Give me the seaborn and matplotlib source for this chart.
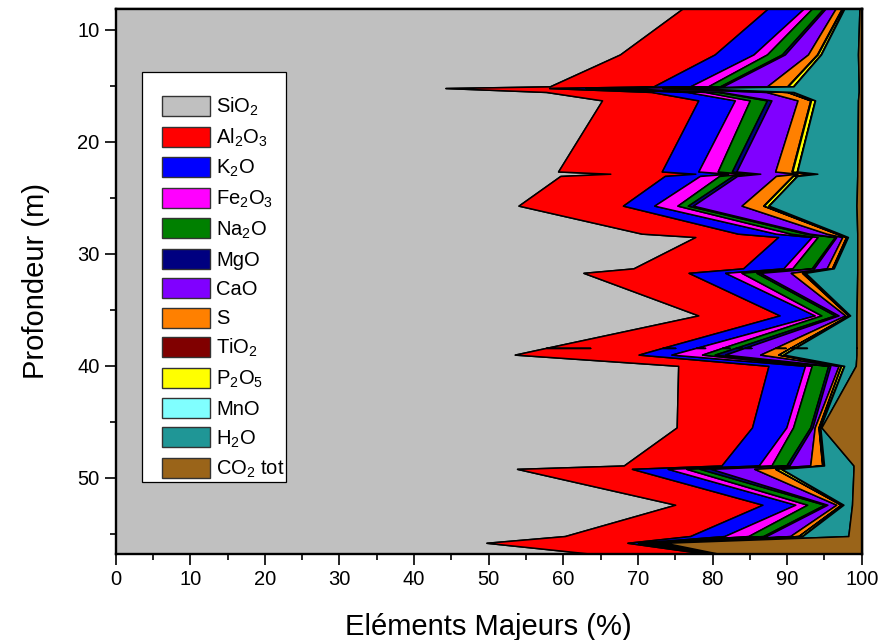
import matplotlib
matplotlib.use("Agg")
import numpy as np
import pandas as pd
import matplotlib.pyplot as plt
import seaborn as sns
from matplotlib.patches import Patch, Rectangle
from matplotlib.ticker import MultipleLocator

# =============================================================================
# DONNEES -- profondeur (m) et teneurs (%)
# =============================================================================

DEPTH = [8.0, 12.2, 15.05, 15.2, 15.55, 16.3, 22.65, 22.85, 23.05, 25.7,
         28.2, 28.5, 31.3, 31.7, 35.5, 38.4, 38.4, 38.4, 39.0, 40.0,
         45.5, 48.9, 49.2, 52.4, 55.2, 55.8, 56.9]

SIO2 = [76.2, 67.6, 58.2, 44.2, 57.7, 65.2, 59.3, 66.3, 59.6, 54.0,
        70.5, 77.7, 69.4, 62.7, 78.1, 57.7, 63.6, 57.7, 53.5, 75.4,
        75.2, 68.1, 53.8, 75.0, 60.2, 49.7, 65.5]
AL2O3 = [11.4, 12.7, 13.9, 13.9, 14.1, 12.9, 13.9, 11.4, 14.0, 14.0,
         12.9, 11.1, 14.7, 14.1, 10.9, 15.6, 11.4, 15.6, 16.6, 12.1,
         10.1, 13.1, 15.4, 11.7, 16.8, 18.9, 15.0]
K2O = [4.8, 5.2, 4.9, 4.9, 4.8, 4.9, 4.9, 4.4, 4.7, 4.2,
       5.1, 4.5, 5.4, 4.9, 4.7, 4.5, 4.0, 4.5, 4.4, 4.9,
       4.6, 5.0, 4.8, 4.4, 4.6, 1.4, 0.3]
FE2O3 = [1.1, 1.8, 2.4, 2.4, 2.4, 2.0, 2.6, 2.1, 2.6, 3.1,
         2.0, 0.8, 1.2, 2.2, 0.9, 3.5, 3.3, 3.5, 4.1, 0.9,
         0.9, 1.7, 2.5, 1.6, 3.2, 0.6, 0.1]
NA2O = [1.5, 2.0, 1.6, 1.6, 1.8, 2.3, 1.9, 1.6, 1.8, 1.4,
        2.0, 2.3, 2.6, 2.0, 1.8, 1.8, 1.7, 1.8, 1.7, 2.2,
        2.3, 2.0, 1.8, 2.3, 2.0, 0.6, 0.1]
MGO = [0.3, 0.4, 0.4, 0.4, 0.4, 0.6, 0.6, 0.6, 0.6, 0.7,
       0.5, 0.2, 0.3, 0.5, 0.5, 1.2, 1.2, 1.2, 1.4, 0.3,
       0.3, 0.4, 1.5, 0.4, 0.4, 0.3, 0.1]
CAO = [1.3, 3.1, 5.9, 5.9, 6.0, 3.5, 5.2, 5.0, 5.2, 6.5,
       2.3, 0.8, 1.7, 4.1, 0.9, 4.1, 4.6, 4.1, 4.7, 1.1,
       0.3, 2.8, 5.8, 1.2, 3.2, 1.0, 0.2]
S = [0.8, 1.2, 2.7, 2.7, 2.8, 1.7, 2.2, 2.0, 2.2, 2.9,
     1.3, 0.5, 0.7, 1.5, 0.4, 2.0, 2.2, 2.0, 2.4, 0.3,
     0.5, 1.6, 2.8, 0.6, 1.1, 0.5, 0.1]
TIO2 = [0.1, 0.1, 0.1, 0.1, 0.1, 0.1, 0.1, 0.1, 0.1, 0.1,
        0.1, 0.05, 0.05, 0.1, 0.05, 0.05, 0.05, 0.05, 0.1, 0.05,
        0.05, 0.05, 0.1, 0.05, 0.05, 0.1, 0.05]
P2O5 = [0.2, 0.4, 0.7, 0.7, 0.7, 0.5, 0.6, 0.5, 0.5, 0.6,
        0.3, 0.15, 0.15, 0.3, 0.15, 0.55, 0.55, 0.55, 0.6, 0.35,
        0.15, 0.15, 0.7, 0.25, 0.45, 0.2, 0.05]
MNO = [0.05] * 27
H2O = [1.95, 4.95, 8.75, 22.75, 8.75, 5.75, 8.05, 5.35, 8.05, 11.75,
       2.35, 1.25, 3.15, 6.95, 0.85, 8.25, 6.65, 8.25, 9.75, 1.55,
       0.15, 3.95, 9.65, 1.15, 6.15, 0.25, 0.2]
CO2 = [0.3, 0.5, 0.4, 0.4, 0.4, 0.5, 0.6, 0.6, 0.6, 0.7,
       0.6, 0.6, 0.6, 0.6, 0.7, 0.7, 0.7, 0.7, 0.7, 0.8,
       5.4, 1.1, 1.1, 1.3, 1.8, 26.4, 18.25]

LABELS = [r"SiO$_\mathregular{2}$", r"Al$_\mathregular{2}$O$_\mathregular{3}$",
          r"K$_\mathregular{2}$O", r"Fe$_\mathregular{2}$O$_\mathregular{3}$",
          r"Na$_\mathregular{2}$O", "MgO", "CaO", "S", r"TiO$_\mathregular{2}$",
          r"P$_\mathregular{2}$O$_\mathregular{5}$", "MnO", r"H$_\mathregular{2}$O",
          r"CO$_\mathregular{2}$ tot"]

COLORS = ["#C0C0C0", "#FF0000", "#0000FF", "#FF00FF", "#008000", "#000080",
          "#8000FF", "#FF8000", "#800000", "#FFFF00", "#80FFFF", "#1F9696",
          "#9A6419"]

SERIES = [SIO2, AL2O3, K2O, FE2O3, NA2O, MGO, CAO, S, TIO2, P2O5, MNO, H2O, CO2]

# =============================================================================
# FIGURE
# =============================================================================

sns.set_style("ticks")
plt.rcParams["font.family"] = ["Liberation Sans", "DejaVu Sans"]
for key in ["text.color", "axes.labelcolor", "xtick.color", "ytick.color", "axes.edgecolor"]:
    plt.rcParams[key] = "black"
palette = sns.color_palette(COLORS)

df = pd.DataFrame({lab: vals for lab, vals in zip(LABELS, SERIES)})
df.insert(0, "depth", DEPTH)
cum = df[LABELS].cumsum(axis=1)

fig = plt.figure(figsize=(8.94, 6.40), dpi=100)
ax = fig.add_axes([0.1294, 0.1344, 0.8345, 0.8523])

left = np.zeros(len(df))
for i, lab in enumerate(LABELS):
    right = cum[lab].values
    ax.fill_betweenx(df["depth"], left, right, facecolor=palette[i],
                     edgecolor="black", linewidth=1.1, zorder=2 + i * 0.01)
    left = right

ax.set_xlim(0, 100)
ax.set_ylim(56.8, 8.1)

ax.xaxis.set_major_locator(MultipleLocator(10))
ax.xaxis.set_minor_locator(MultipleLocator(5))
ax.yaxis.set_major_locator(MultipleLocator(10))
ax.yaxis.set_minor_locator(MultipleLocator(5))
ax.tick_params(which="major", direction="out", length=8, width=1.2, labelsize=14.5)
ax.tick_params(which="minor", direction="out", length=4.5, width=1.2)

# ticks vers l'interieur en haut et a droite
top = ax.secondary_xaxis("top")
top.xaxis.set_major_locator(MultipleLocator(10))
top.xaxis.set_minor_locator(MultipleLocator(5))
top.tick_params(which="major", direction="in", length=8, width=1.2, labeltop=False)
top.tick_params(which="minor", direction="in", length=4.5, width=1.2)
right_ax = ax.secondary_yaxis("right")
right_ax.yaxis.set_major_locator(MultipleLocator(10))
right_ax.yaxis.set_minor_locator(MultipleLocator(5))
right_ax.tick_params(which="major", direction="in", length=8, width=1.2, labelright=False)
right_ax.tick_params(which="minor", direction="in", length=4.5, width=1.2)

for sp in list(ax.spines.values()) + [top.spines["top"], right_ax.spines["right"]]:
    sp.set_linewidth(1.7)
    sp.set_zorder(10)

ax.set_xlabel("Eléments Majeurs (%)", fontsize=21, labelpad=17)
ax.set_ylabel("Profondeur (m)", fontsize=21, labelpad=20)

# cadre de la legende (dessine a part pour coller au modele)
ax.add_patch(Rectangle((0.0353, 0.132), 0.193, 0.7516, transform=ax.transAxes,
                       facecolor="white", edgecolor="black", linewidth=0.9, zorder=19))
handles = [Patch(facecolor=palette[i], edgecolor="#333333", linewidth=1.0)
           for i in range(len(LABELS))]
leg = ax.legend(handles, LABELS, loc="upper left", bbox_to_anchor=(0.062, 0.840),
                borderaxespad=0, borderpad=0, fontsize=14.5, frameon=False,
                handlelength=2.4, handleheight=1.15, handletextpad=0.3,
                labelspacing=0.42)
leg.set_zorder(20)

fig.savefig("out.png", dpi=100)
